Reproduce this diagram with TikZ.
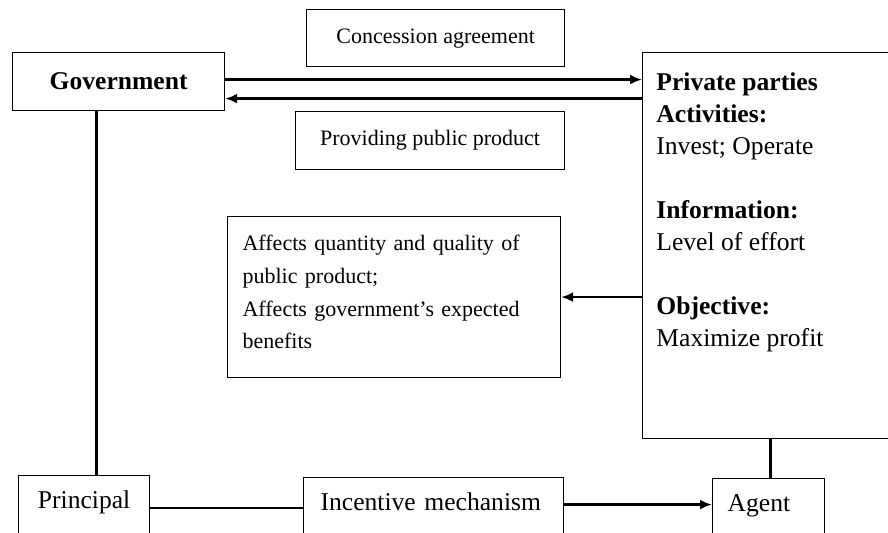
\documentclass[tikz,border=0pt]{standalone}
\usepackage{fontspec}
\setmainfont{Liberation Serif}
\usetikzlibrary{arrows.meta}

\begin{document}
\begin{tikzpicture}[x=0.5pt, y=-0.5pt,
    box/.style={draw, line width=0.6pt, inner sep=0pt, anchor=north west},
    big/.style={font=\fontsize{12.8}{16}\selectfont},
    small/.style={font=\fontsize{11}{16.3}\selectfont},
    link/.style={line width=1.2pt},
    flow/.style={line width=1.2pt, -{Latex[length=6pt, width=5pt]}}]
    % Canvas
    \useasboundingbox (0,0) rectangle (888,533);

    % Top row
    \node[box, big, minimum width=106pt, minimum height=29pt] (gov) at (12,52) {\bfseries Government};
    \node[box, small, minimum width=129pt, minimum height=28.5pt] (concession) at (306,9) {Concession agreement};
    \node[box, small, minimum width=134.5pt, minimum height=29pt] (providing) at (295,111) {Providing public product};

    % Private parties
    \node[box, minimum width=132pt, minimum height=193pt] (private) at (642,52) {};
    \node[big, align=left, inner sep=0pt, anchor=north west] (privtext) at (656,72)
        {\textbf{Private parties}\\ \textbf{Activities:}\\ Invest; Operate\\[16pt]
         \textbf{Information:}\\ Level of effort\\[16pt]
         \textbf{Objective:}\\ Maximize profit};

    % Effects of effort
    \node[box, small, align=left, text width=151.5pt, inner xsep=7.5pt, minimum height=80.5pt, text depth=54pt] (affects) at (227,216)
        {Affects quantity and quality of\\ public product;\\ Affects government’s expected\\ benefits};

    % Bottom row
    \node[box, big, minimum width=65.5pt, text height=16.5pt, text depth=16pt] (principal) at (18,475) {Principal};
    \node[box, big, align=left, text width=113pt, inner xsep=8.5pt, text height=16.5pt, text depth=15pt] (incentive) at (303,477) {Incentive mechanism};
    \node[box, big, align=left, text width=41pt, inner xsep=7.5pt, text height=16.5pt, text depth=15pt] (agent) at (712,478) {Agent};

    % Connectors
    \draw[flow] ([yshift=1pt]gov.east) -- ([yshift=1pt]gov.east -| private.west);
    \draw[flow] ([yshift=-8.5pt]gov.east -| private.west) -- ([yshift=-8.5pt]gov.east);
    \draw[flow] (affects.east -| private.west) -- (affects.east);
    \draw[link] ([xshift=-11pt]gov.south) -- ([xshift=-11pt]gov.south |- principal.north);
    \draw[link] (principal.east) -- (principal.east -| incentive.west);
    \draw[flow] ([yshift=2.25pt]incentive.east) -- ([yshift=2.25pt]incentive.east -| agent.west);
    \draw[link] ([xshift=1pt]agent.north) -- ([xshift=1pt]agent.north |- private.south);

\end{tikzpicture}
\end{document}
